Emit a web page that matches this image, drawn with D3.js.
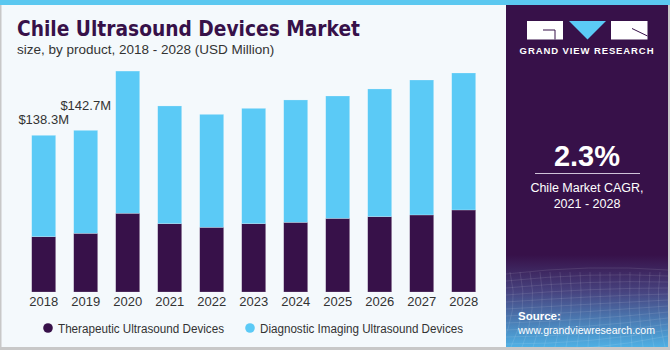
<!DOCTYPE html>
<html>
<head>
<meta charset="utf-8">
<script src="https://cdn.jsdelivr.net/npm/d3@7"></script>
<style>
  body { margin: 0; }
  svg { display: block; font-family: "Liberation Sans", Arial, sans-serif; }
</style>
</head>
<body>
<svg id="chart"></svg>
<script>
// values (USD Million)
const years = ["2018", "2019", "2020", "2021", "2022", "2023", "2024", "2025", "2026", "2027", "2028"];
const therapeutic = [48.8, 51.8, 69.5, 60.3, 57.1, 60.3, 61.5, 65.0, 66.5, 68.0, 72.4];
const diagnostic = [89.5, 90.9, 125.5, 103.9, 99.7, 101.8, 108.0, 108.0, 112.7, 119.1, 120.9];
const seriesNames = ["Therapeutic Ultrasound Devices", "Diagnostic Imaging Ultrasound Devices"];
const totalLabels = [{year: "2018", text: "$138.3M", dy: -11}, {year: "2019", text: "$142.7M", dy: -20}];

const width = 670, height = 350;
const dark = "#371149", blue = "#5bcaf6";

const svg = d3.select("#chart").attr("width", width).attr("height", height);

// background + frame
svg.append("rect").attr("width", width).attr("height", height).attr("fill", "#f4f9fc");
svg.append("rect").attr("x", 0).attr("y", 0).attr("width", 1.5).attr("height", height).attr("fill", "#c8c8c8");
svg.append("rect").attr("x", 0).attr("y", 347).attr("width", width).attr("height", 3).attr("fill", "#c8c8c8");
svg.append("rect").attr("x", 668).attr("y", 0).attr("width", 2).attr("height", height).attr("fill", "#c8c8c8");

// right panel
const defs = svg.append("defs");
const grad = defs.append("linearGradient").attr("id", "src").attr("x1", 0).attr("y1", 0).attr("x2", 0).attr("y2", 1);
grad.append("stop").attr("offset", "0").attr("stop-color", dark).attr("stop-opacity", 1);
grad.append("stop").attr("offset", "0.4").attr("stop-color", "#47437f");
grad.append("stop").attr("offset", "1").attr("stop-color", "#4eb0e4");

svg.append("rect").attr("x", 506).attr("y", 0).attr("width", 162).attr("height", 347).attr("fill", dark);
svg.append("rect").attr("x", 506).attr("y", 255).attr("width", 162).attr("height", 92).attr("fill", "url(#src)");

// faint mesh in the source box
const mesh = svg.append("g").attr("stroke", "#ffffff").attr("stroke-opacity", 0.1).attr("fill", "none");
d3.range(0, 12).forEach(i => {
  mesh.append("path").attr("d", `M506,${274 + i * 7} Q590,${264 + i * 8} 668,${270 + i * 6}`);
});
d3.range(0, 18).forEach(i => {
  mesh.append("path").attr("d", `M${510 + i * 10},272 Q${520 + i * 9},310 ${500 + i * 11},347`);
});

// top stripe
svg.append("rect").attr("x", 0).attr("y", 0).attr("width", width).attr("height", 5).attr("fill", "#5bc8f0");

// logo
const logo = svg.append("g");
logo.append("rect").attr("x", 527).attr("y", 21).attr("width", 36).attr("height", 18.5).attr("fill", "#fff");
logo.append("path").attr("d", "M543,30 L555,30 L555,39.5").attr("stroke", dark).attr("stroke-width", 1).attr("fill", "none");
logo.append("path").attr("d", "M569,21 L606,21 L587.5,39.5 Z").attr("fill", blue);
logo.append("rect").attr("x", 611).attr("y", 21).attr("width", 36.5).attr("height", 18.5).attr("fill", "#fff");
logo.append("path").attr("d", "M632,28.5 L647.5,36").attr("stroke", dark).attr("stroke-width", 1);
svg.append("text").attr("x", 587).attr("y", 54).attr("text-anchor", "middle")
  .attr("fill", "#fff").attr("font-size", 9.5).attr("font-weight", "bold").attr("letter-spacing", 0.9)
  .text("GRAND VIEW RESEARCH");

// CAGR
svg.append("text").attr("x", 587).attr("y", 166).attr("text-anchor", "middle")
  .attr("fill", "#fff").attr("font-size", 29).attr("font-weight", "bold").text("2.3%");
svg.append("line").attr("x1", 535).attr("x2", 640).attr("y1", 173.5).attr("y2", 173.5)
  .attr("stroke", "#cfc3d8").attr("stroke-width", 1.2);
svg.append("text").attr("x", 587).attr("y", 192).attr("text-anchor", "middle")
  .attr("fill", "#fff").attr("font-size", 12.5).text("Chile Market CAGR,");
svg.append("text").attr("x", 587).attr("y", 208).attr("text-anchor", "middle")
  .attr("fill", "#fff").attr("font-size", 12.5).text("2021 - 2028");

// source
svg.append("text").attr("x", 518).attr("y", 320).attr("fill", "#fff")
  .attr("font-size", 11.5).attr("font-weight", "bold").text("Source:");
svg.append("text").attr("x", 518).attr("y", 334).attr("fill", "#fff")
  .attr("font-size", 11).attr("textLength", 137).attr("lengthAdjust", "spacingAndGlyphs")
  .text("www.grandviewresearch.com");

// titles
svg.append("text").attr("x", 17).attr("y", 36).attr("fill", dark)
  .attr("font-size", 21).attr("font-weight", "bold").attr("font-family", "'DejaVu Sans', sans-serif")
  .attr("textLength", 343).attr("lengthAdjust", "spacingAndGlyphs")
  .text("Chile Ultrasound Devices Market");
svg.append("text").attr("x", 17).attr("y", 54).attr("fill", "#333")
  .attr("font-size", 13.5).text("size, by product, 2018 - 2028 (USD Million)");

// scales
const x = d3.scaleBand().domain(years).range([22.7, 484.7]).paddingInner(0.4286).paddingOuter(0.2143);
const y = d3.scaleLinear().domain([0, 200]).range([292, 292 - 200 * 1.133]);

const rows = years.map((yr, i) => ({year: yr, therapeutic: therapeutic[i], diagnostic: diagnostic[i]}));
const stack = d3.stack().keys(["therapeutic", "diagnostic"])(rows);
const colors = [dark, blue];

svg.append("g").selectAll("g").data(stack).join("g")
  .attr("fill", (d, i) => colors[i])
  .selectAll("rect").data(d => d).join("rect")
  .attr("x", d => x(d.data.year))
  .attr("y", d => y(d[1]))
  .attr("width", x.bandwidth())
  .attr("height", d => y(d[0]) - y(d[1]))
  .attr("stroke", "#ffffff").attr("stroke-opacity", 0.35).attr("stroke-width", 0.6);

// total labels
const totals = years.map((yr, i) => therapeutic[i] + diagnostic[i]);
svg.append("g").selectAll("text").data(totalLabels).join("text")
  .attr("x", d => x(d.year) + x.bandwidth() / 2)
  .attr("y", d => y(totals[years.indexOf(d.year)]) + d.dy)
  .attr("text-anchor", "middle").attr("fill", "#333").attr("font-size", 13)
  .text(d => d.text);

// x axis
const xAxis = svg.append("g").attr("transform", "translate(0,292)")
  .call(d3.axisBottom(x).tickSize(0).tickPadding(5));
xAxis.select(".domain").remove();
xAxis.selectAll("text").attr("font-size", 13).attr("fill", "#333")
  .attr("font-family", "'Liberation Sans', Arial, sans-serif");

// legend
const legendX = [48, 250];
const legendW = [166, 203];
const legend = svg.append("g").selectAll("g").data(seriesNames).join("g")
  .attr("transform", (d, i) => `translate(${legendX[i]},328)`);
legend.append("circle").attr("r", 4.8).attr("fill", (d, i) => colors[i]);
legend.append("text").attr("x", 10).attr("y", 4.5).attr("font-size", 12.5).attr("fill", "#333")
  .attr("textLength", (d, i) => legendW[i]).attr("lengthAdjust", "spacingAndGlyphs")
  .text(d => d);
</script>
</body>
</html>
